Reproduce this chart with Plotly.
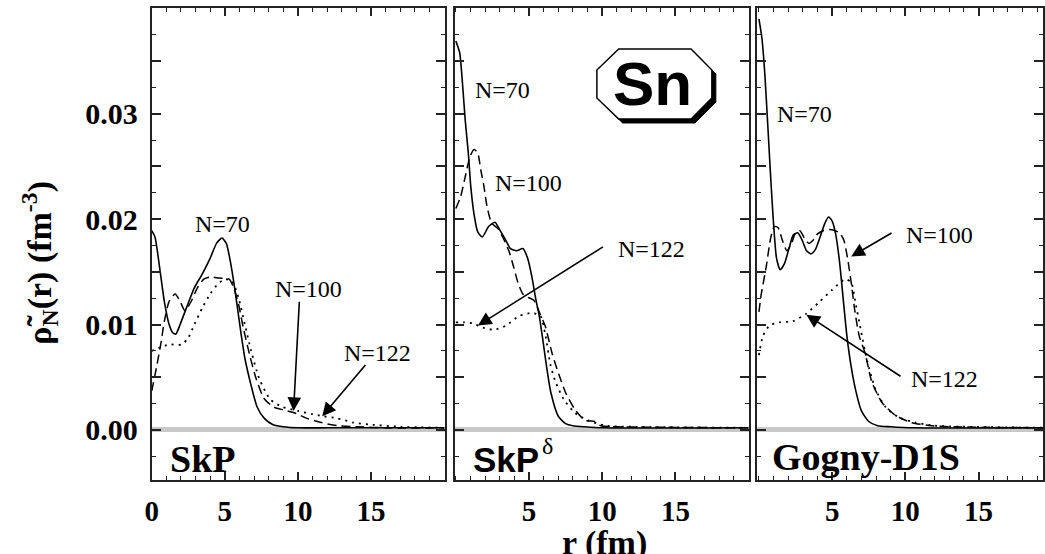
import plotly.graph_objects as go

# ---------------- data ----------------
# Panel 1: SkP
skp_r70 = [0, 0.22, 0.54, 0.86, 1.19, 1.45, 1.65, 1.94, 2.38, 2.92, 3.46, 4.0, 4.43, 4.8, 5.1, 5.4, 5.72, 6.05, 6.37, 6.8, 7.2, 7.7, 8.3, 9.0, 10.0, 12, 15, 20]
skp_n70 = [0.0189, 0.0183, 0.0154, 0.0122, 0.0100, 0.0092, 0.0091, 0.0100, 0.0116, 0.0135, 0.0148, 0.0163, 0.0177, 0.0182, 0.0177, 0.0158, 0.0130, 0.0097, 0.0068, 0.0042, 0.0022, 0.0011, 0.0005, 0.0003, 0.0002, 0.0002, 0.0002, 0.0002]
skp_r100 = [0, 0.32, 0.65, 0.86, 1.19, 1.6, 1.94, 2.27, 2.7, 3.13, 3.56, 4.0, 4.6, 5.3, 5.6, 5.94, 6.26, 6.7, 7.13, 7.67, 8.3, 9.0, 9.8, 10.6, 11.6, 12.7, 14, 16, 20]
skp_n100 = [0.0037, 0.0059, 0.0084, 0.0103, 0.0122, 0.0129, 0.0122, 0.0113, 0.0122, 0.0135, 0.0143, 0.0145, 0.0144, 0.0143, 0.0135, 0.0119, 0.0097, 0.0071, 0.0049, 0.0030, 0.0022, 0.0019, 0.0016, 0.0011, 0.0007, 0.0004, 0.0003, 0.0002, 0.0002]
skp_r122 = [0, 0.54, 1.19, 2.05, 2.48, 2.92, 3.46, 4.0, 4.43, 4.97, 5.5, 5.94, 6.37, 6.8, 7.34, 8.1, 8.9, 10.0, 11.0, 11.7, 12.7, 13.8, 15, 17, 20]
skp_n122 = [0.0075, 0.0078, 0.0081, 0.0081, 0.0087, 0.0100, 0.0116, 0.0129, 0.0137, 0.0143, 0.0141, 0.0125, 0.0100, 0.0075, 0.0049, 0.0029, 0.0022, 0.0018, 0.0015, 0.0013, 0.0011, 0.0007, 0.0005, 0.0003, 0.0002]

# Panel 2: SkP-delta
skpd_r70 = [0, 0.26, 0.47, 0.64, 0.85, 1.02, 1.24, 1.49, 1.81, 2.24, 2.67, 2.99, 3.41, 3.73, 4.16, 4.58, 4.9, 5.2, 5.45, 5.7, 5.95, 6.2, 6.5, 7.0, 7.5, 8.0, 8.8, 10, 20]
skpd_n70 = [0.0369, 0.0358, 0.0326, 0.0294, 0.0263, 0.0231, 0.0205, 0.0188, 0.0183, 0.0193, 0.0197, 0.0190, 0.0180, 0.0172, 0.0170, 0.0172, 0.0163, 0.0145, 0.0125, 0.0108, 0.0085, 0.0060, 0.0035, 0.0013, 0.0006, 0.0004, 0.0003, 0.0002, 0.0002]
skpd_r100 = [0, 0.32, 0.64, 0.96, 1.24, 1.49, 1.7, 1.92, 2.13, 2.45, 2.88, 3.2, 3.62, 3.94, 4.26, 4.58, 4.9, 5.33, 5.76, 6.12, 6.57, 7.03, 7.48, 8.15, 8.83, 9.5, 9.9, 11, 20]
skpd_n100 = [0.0210, 0.0221, 0.0240, 0.0259, 0.0266, 0.0263, 0.0247, 0.0231, 0.0212, 0.0196, 0.0191, 0.0183, 0.0170, 0.0155, 0.0139, 0.0129, 0.0126, 0.0123, 0.0110, 0.0098, 0.0073, 0.0053, 0.0036, 0.0019, 0.0009, 0.0008, 0.0004, 0.0003, 0.0002]
skpd_r122 = [0, 0.6, 1.17, 1.85, 2.64, 3.43, 4.32, 5.2, 5.78, 6.12, 6.46, 6.8, 7.37, 8.15, 9.05, 10.2, 12, 20]
skpd_n122 = [0.0102, 0.0102, 0.0101, 0.0097, 0.0095, 0.0099, 0.0108, 0.0111, 0.0108, 0.0090, 0.0062, 0.0046, 0.0029, 0.0016, 0.0009, 0.0004, 0.0003, 0.0002]

# Panel 3: Gogny-D1S
gog_r70 = [0, 0.2, 0.4, 0.6, 0.8, 1.0, 1.2, 1.45, 1.75, 2.05, 2.35, 2.65, 2.95, 3.25, 3.55, 3.85, 4.2, 4.5, 4.75, 5.0, 5.25, 5.5, 5.75, 6.0, 6.3, 6.6, 7.0, 7.5, 8.1, 9.0, 10.5, 20]
gog_n70 = [0.0390, 0.0372, 0.0338, 0.0290, 0.0240, 0.0195, 0.0163, 0.0152, 0.0158, 0.0172, 0.0185, 0.0187, 0.0180, 0.0170, 0.0167, 0.0171, 0.0184, 0.0196, 0.0202, 0.0198, 0.0185, 0.0160, 0.0125, 0.0090, 0.0060, 0.0038, 0.0018, 0.0008, 0.0004, 0.0003, 0.0002, 0.0002]
gog_r100 = [0, 0.15, 0.5, 0.8, 1.05, 1.3, 1.6, 1.9, 2.2, 2.5, 2.8, 3.1, 3.4, 3.7, 4.0, 4.4, 4.8, 5.2, 5.5, 5.8, 6.05, 6.3, 6.55, 6.85, 7.25, 7.7, 8.4, 9.3, 10.4, 11.8, 13, 20]
gog_n100 = [0.0112, 0.0128, 0.0155, 0.0182, 0.0193, 0.0192, 0.0180, 0.0170, 0.0176, 0.0187, 0.0189, 0.0182, 0.0177, 0.0180, 0.0186, 0.0189, 0.0190, 0.0189, 0.0187, 0.0180, 0.0163, 0.0140, 0.0113, 0.0089, 0.0073, 0.0046, 0.0026, 0.0014, 0.0007, 0.0004, 0.0003, 0.0002]
gog_r122 = [0, 0.27, 0.72, 1.4, 2.3, 3.2, 4.1, 5.0, 5.9, 6.3, 6.6, 6.94, 7.38, 7.95, 8.63, 9.53, 10.7, 12, 20]
gog_n122 = [0.0071, 0.0089, 0.0099, 0.0102, 0.0103, 0.0110, 0.0121, 0.0133, 0.0143, 0.0140, 0.0120, 0.0096, 0.0066, 0.0039, 0.0022, 0.0012, 0.0007, 0.0004, 0.0002]

series_labels = ["N=70", "N=100", "N=122"]
x_ticks = [[0, 5, 10, 15], [5, 10, 15], [5, 10, 15]]
y_tickvals = [0.0, 0.005, 0.01, 0.015, 0.02, 0.025, 0.03, 0.035]
y_ticktext = ["0.00", " ", "0.01", " ", "0.02", " ", "0.03", " "]

# ---------------- layout geometry ----------------
W, H = 1045, 554
SERIF = "Liberation Serif"
SANS = "Liberation Sans"

def fx(px):
    return px / W

def fy(py):
    return 1 - py / H

x_domains = [[fx(146), fx(441.7)], [fx(451.7), fx(748)], [fx(756.7), 1.0]]
x_ranges = [[0, 20.05], [-0.07, 20.0], [-0.12, 19.4]]
y_domain = [fy(480), fy(7.5)]
y_range = [-0.00475, 0.04007]

fig = go.Figure()

panels = [
    [(skp_r70, skp_n70), (skp_r100, skp_n100), (skp_r122, skp_n122)],
    [(skpd_r70, skpd_n70), (skpd_r100, skpd_n100), (skpd_r122, skpd_n122)],
    [(gog_r70, gog_n70), (gog_r100, gog_n100), (gog_r122, gog_n122)],
]
dashes = ["solid", "9px,5px", "2px,5px"]
widths = [1.6, 1.5, 1.8]

for i, panel in enumerate(panels):
    xa = "x" if i == 0 else f"x{i+1}"
    ya = "y" if i == 0 else f"y{i+1}"
    for j, (r, rho) in enumerate(panel):
        fig.add_trace(go.Scatter(
            x=r, y=rho, mode="lines", xaxis=xa, yaxis=ya,
            line=dict(color="black", width=widths[j], dash=dashes[j], shape="spline", smoothing=0.6),
            showlegend=False, name=series_labels[j], hoverinfo="skip"))

axis_common = dict(showline=True, mirror="ticks", linecolor="#222222", linewidth=2,
                   showgrid=False, ticks="inside", tickcolor="#222222")

layout = dict(width=W, height=H, autosize=False,
              margin=dict(l=0, r=0, t=0, b=0),
              paper_bgcolor="white", plot_bgcolor="white", showlegend=False)

for i in range(3):
    sx = "" if i == 0 else str(i + 1)
    layout["xaxis" + sx] = dict(
        axis_common, domain=x_domains[i], range=x_ranges[i], anchor="y" + sx,
        zeroline=False, tickvals=x_ticks[i], ticktext=[str(v) for v in x_ticks[i]],
        ticklen=8, tickwidth=1.5, ticklabelstandoff=4,
        tickfont=dict(family=SERIF, size=29, color="black", weight="bold"),
        minor=dict(ticks="inside", dtick=1, tick0=0, ticklen=4, tickwidth=1.2, tickcolor="#222222"))
    layout["yaxis" + sx] = dict(
        axis_common, domain=y_domain, range=y_range, anchor="x" + sx,
        zeroline=True, zerolinecolor="#c8c8c8", zerolinewidth=5,
        tickvals=y_tickvals, ticktext=y_ticktext,
        showticklabels=(i == 0), ticklen=9, tickwidth=1.5, ticklabelstandoff=6,
        tickfont=dict(family=SERIF, size=30, color="black", weight="bold"),
        minor=dict(ticks="inside", dtick=0.0025, tick0=0, ticklen=4, tickwidth=1.2, tickcolor="#222222"))

fig.update_layout(**layout)

ann = []
lab_font = dict(family=SERIF, size=24, color="black")

# N= labels : (panel, text, x, y)
n_labels = [
    (0, "N=70", 4.81, 0.0195), (0, "N=100", 10.7, 0.0134), (0, "N=122", 15.46, 0.0073),
    (1, "N=70", 3.2, 0.0322), (1, "N=100", 4.95, 0.0234), (1, "N=122", 13.4, 0.0172),
    (2, "N=70", 3.1, 0.0300), (2, "N=100", 12.35, 0.0185), (2, "N=122", 12.7, 0.0048),
]
for p, t, x, y in n_labels:
    sx = "" if p == 0 else str(p + 1)
    ann.append(dict(text=t, x=x, y=y, xref="x" + sx, yref="y" + sx, showarrow=False,
                    font=lab_font, xanchor="center", yanchor="middle"))

# arrows: (panel, tail_x, tail_y, tip_x, tip_y)
arrows = [
    (0, 10.1, 0.0123, 9.7, 0.0018),
    (0, 14.7, 0.0063, 11.66, 0.0013),
    (1, 10.16, 0.01746, 1.51, 0.0099),
    (2, 9.16, 0.01876, 6.3, 0.01645),
    (2, 9.77, 0.0050, 3.24, 0.01093),
]
for p, tx, ty, hx, hy in arrows:
    sx = "" if p == 0 else str(p + 1)
    ann.append(dict(text="", x=hx, y=hy, ax=tx, ay=ty, xref="x" + sx, yref="y" + sx,
                    axref="x" + sx, ayref="y" + sx, showarrow=True, arrowhead=2,
                    arrowsize=1.7, arrowwidth=1.6, arrowcolor="black", standoff=0))

# panel names
ann.append(dict(text="<b>SkP</b>", x=fx(162), y=fy(459), xref="paper", yref="paper",
                showarrow=False, xanchor="left", yanchor="middle",
                font=dict(family=SERIF, size=38, color="black")))
ann.append(dict(text="<b>SkP</b>", x=fx(468), y=fy(459), xref="paper", yref="paper",
                showarrow=False, xanchor="left", yanchor="middle",
                font=dict(family=SANS, size=35, color="black")))
ann.append(dict(text="δ", x=fx(545), y=fy(446), xref="paper", yref="paper",
                showarrow=False, xanchor="center", yanchor="middle",
                font=dict(family=SERIF, size=24, color="black")))
ann.append(dict(text="<b>Gogny-D1S</b>", x=fx(770), y=fy(457), xref="paper", yref="paper",
                showarrow=False, xanchor="left", yanchor="middle",
                font=dict(family=SERIF, size=38, color="black")))

# axis titles
ann.append(dict(text="<b>ρ̃<sub>N</sub>(r) (fm<sup>-3</sup>)</b>", x=fx(32), y=fy(263),
                xref="paper", yref="paper", showarrow=False, textangle=-90,
                xanchor="center", yanchor="middle",
                font=dict(family=SERIF, size=34, color="black")))
ann.append(dict(text="<b>r (fm)</b>", x=fx(603), y=fy(543), xref="paper", yref="paper",
                showarrow=False, xanchor="center", yanchor="middle", borderpad=0,
                font=dict(family=SERIF, size=34, color="black")))

# Sn badge
ann.append(dict(text="<b>Sn</b>", x=fx(651), y=fy(84), xref="paper", yref="paper",
                showarrow=False, xanchor="center", yanchor="middle",
                font=dict(family=SANS, size=62, color="black")))

fig.update_layout(annotations=ann)

oct_px = [(617, 49), (690, 49), (711, 70), (711, 98), (690, 119), (617, 119), (595, 98), (595, 70)]

def oct_path(dx, dy):
    pts = [(fx(x + dx), fy(y + dy)) for x, y in oct_px]
    return "M " + " L ".join(f"{a:.5f},{b:.5f}" for a, b in pts) + " Z"

shapes = [
    dict(type="path", path=oct_path(4, 4), xref="paper", yref="paper",
         fillcolor="black", line=dict(color="black", width=1), layer="above"),
    dict(type="path", path=oct_path(0, 0), xref="paper", yref="paper",
         fillcolor="white", line=dict(color="black", width=1.5), layer="above"),
]
fig.update_layout(shapes=shapes)

fig.write_html("out.html", config={"displayModeBar": False},
               post_script="document.body.style.margin='0';")
